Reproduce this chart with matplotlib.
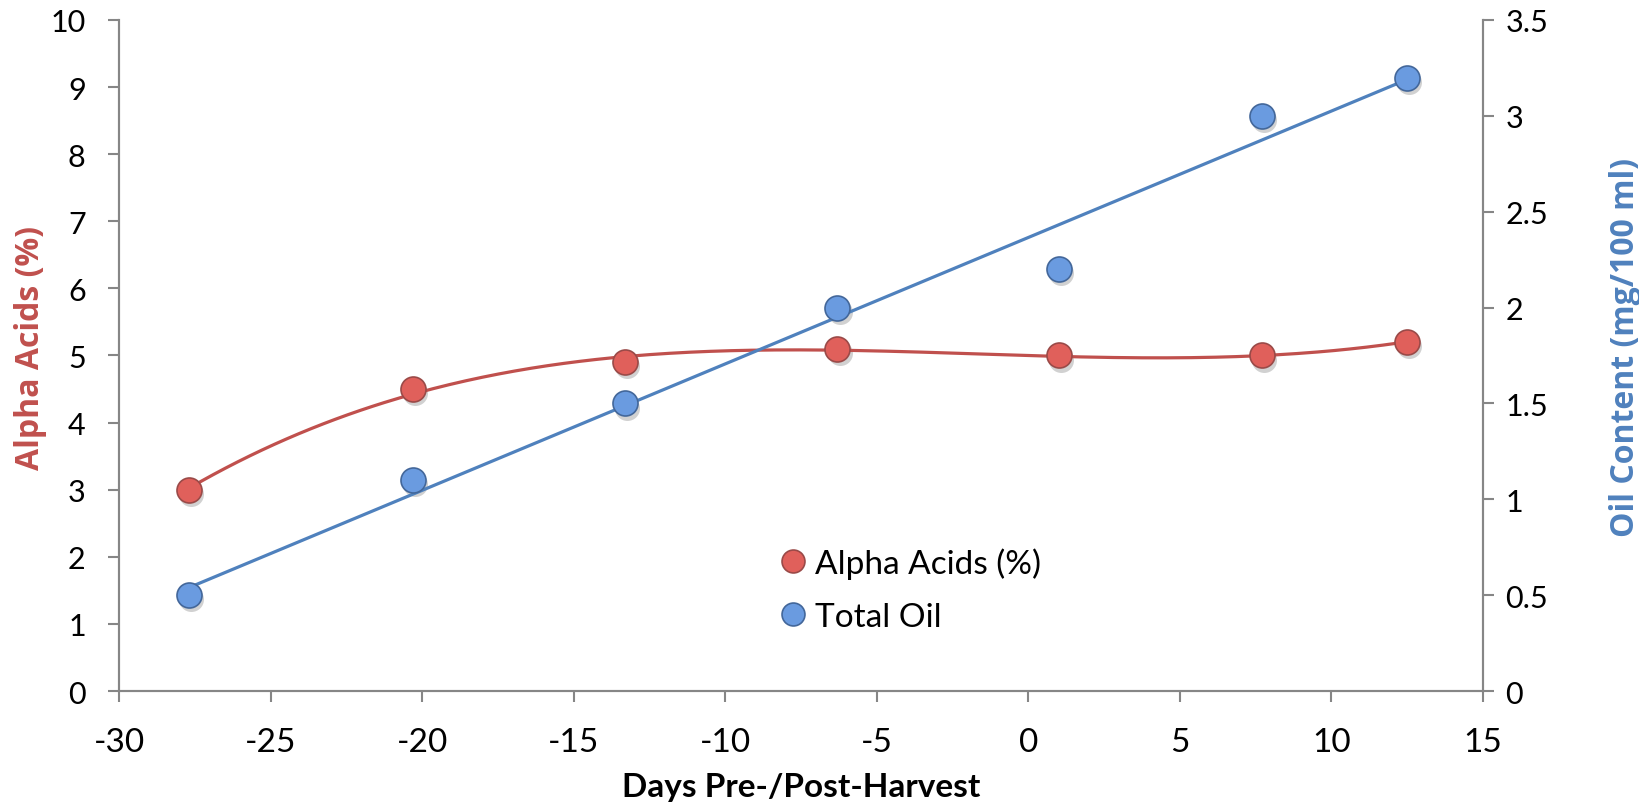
import numpy as np
import matplotlib
matplotlib.use("Agg")
import matplotlib.pyplot as plt
import matplotlib.transforms as mtransforms
from matplotlib.lines import Line2D

plt.rcParams['font.family'] = ['Lato', 'DejaVu Sans']
plt.rcParams['axes.unicode_minus'] = False

# data
days = [-27.7, -20.3, -13.3, -6.3, 1.0, 7.7, 12.5]
alpha_acids = [3.0, 4.5, 4.9, 5.1, 5.0, 5.0, 5.2]
total_oil = [0.5, 1.1, 1.5, 2.0, 2.2, 3.0, 3.2]

x_ticks = [-30, -25, -20, -15, -10, -5, 0, 5, 10, 15]
left_ticks = [0, 1, 2, 3, 4, 5, 6, 7, 8, 9, 10]
right_ticks = [0, 0.5, 1, 1.5, 2, 2.5, 3, 3.5]

red_line = '#C0504D'
blue_line = '#4F81BD'
red_fill = '#E0605B'
blue_fill = '#6A9BE0'
spine_col = '#868686'

fig = plt.figure(figsize=(16.4, 8.04), dpi=100)
ax = fig.add_axes([0.0726, 0.1393, 0.8317, 0.8346])
ax2 = ax.twinx()

# trendlines (polynomial for alpha acids, linear for oil)
xs = np.linspace(min(days), max(days), 300)
p_red = np.polyfit(days, alpha_acids, 3)
p_blue = np.polyfit(days, total_oil, 1)
ax.plot(xs, np.polyval(p_red, xs), color=red_line, lw=2.3, zorder=2)
ax2.plot(xs, np.polyval(p_blue, xs), color=blue_line, lw=2.3, zorder=2)

# markers with a soft shadow
sh = mtransforms.offset_copy(ax.transData, fig=fig, x=1.5, y=-3, units='points')
sh2 = mtransforms.offset_copy(ax2.transData, fig=fig, x=1.5, y=-3, units='points')
ax.plot(days, alpha_acids, 'o', ms=18, color='#000000', alpha=0.18, mec='none',
        transform=sh, zorder=1)
ax2.plot(days, total_oil, 'o', ms=18, color='#000000', alpha=0.18, mec='none',
         transform=sh2, zorder=1)
ax.plot(days, alpha_acids, 'o', ms=18, mfc=red_fill, mec='#9A4A48', mew=1.2, zorder=3)
ax2.plot(days, total_oil, 'o', ms=18, mfc=blue_fill, mec='#43679A', mew=1.2, zorder=3)

ax.set_xlim(-30, 15)
ax.set_ylim(0, 10)
ax2.set_ylim(0, 3.5)
ax.set_xticks(x_ticks)
ax.set_yticks(left_ticks)
ax2.set_yticks(right_ticks)
ax2.set_yticklabels(['%g' % v for v in right_ticks])

for a in (ax, ax2):
    a.spines['top'].set_visible(False)
    for s in ('left', 'right', 'bottom'):
        a.spines[s].set_color(spine_col)
        a.spines[s].set_linewidth(1.5)
ax.tick_params(axis='y', direction='out', length=8, width=1.5, color=spine_col,
               labelsize=22, pad=16)
ax.tick_params(axis='x', direction='out', length=8, width=1.5, color=spine_col,
               labelsize=24, pad=18)
ax2.tick_params(axis='y', direction='out', length=8, width=1.5, color=spine_col,
                labelsize=22, pad=8)

ax.set_xlabel('Days Pre-/Post-Harvest', fontsize=24, fontweight='bold')
ax.set_ylabel('Alpha Acids (%)', fontsize=23, fontweight='bold', color=red_line,
              family='Open Sans')
ax2.set_ylabel('Oil Content (mg/100 ml)', fontsize=23, fontweight='bold',
               color=blue_line, family='Open Sans')
ax.yaxis.set_label_coords(-0.053, 0.513)
ax2.yaxis.set_label_coords(1.092, 0.513)
ax.xaxis.set_label_coords(0.5, -0.12)

handles = [
    Line2D([], [], ls='none', marker='o', ms=16.5, mfc=red_fill, mec='#9A4A48', mew=1.2),
    Line2D([], [], ls='none', marker='o', ms=16.5, mfc=blue_fill, mec='#43679A', mew=1.2),
]
ax2.legend(handles, ['Alpha Acids (%)', 'Total Oil'], loc='center left',
           bbox_to_anchor=(0.4756, 0.2655), bbox_transform=fig.transFigure,
           frameon=False, fontsize=24, handlelength=0.8, handletextpad=0.25,
           labelspacing=0.7, borderpad=0, borderaxespad=0)

fig.savefig('out.png', dpi=100)
